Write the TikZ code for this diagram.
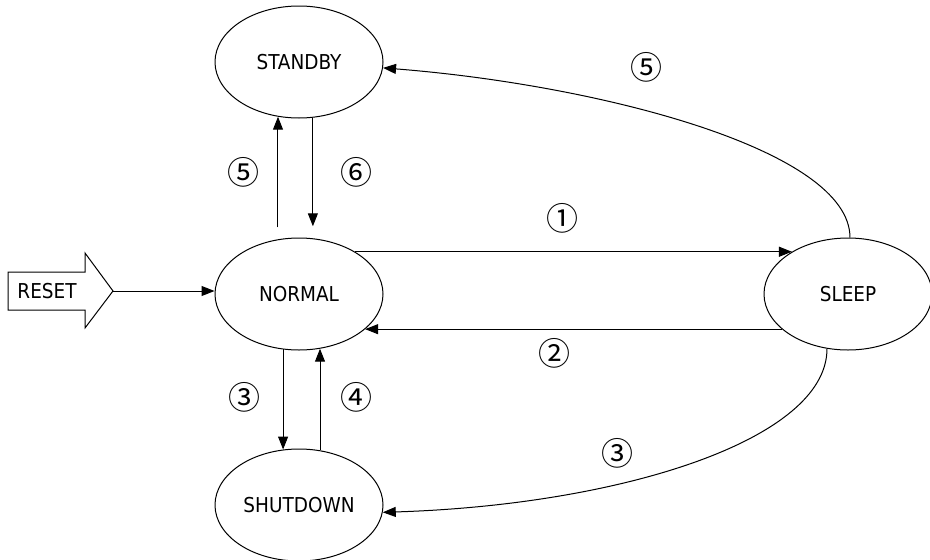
\documentclass[tikz,border=0pt]{standalone}
\usepackage{fontspec}
\setmainfont{DejaVu Sans Condensed}
\newfontfamily\circfont{Noto Sans CJK JP}
\usetikzlibrary{arrows.meta,shapes.geometric}
\begin{document}
\begin{tikzpicture}[x=1pt,y=-1pt,
  state/.style={draw,ellipse,line width=1pt,minimum width=168pt,minimum height=112pt,inner sep=0pt,font=\fontsize{20.5}{24}\selectfont},
  lab/.style={font=\circfont\fontsize{32}{34}\selectfont,inner sep=0pt},
  conn/.style={line width=1pt,-{Triangle[length=13pt,width=10pt]}}]
\useasboundingbox (0,0) rectangle (930,560);
\fill[white] (0,0) rectangle (930,560);
\node[state] (standby) at (299,62) {STANDBY};
\node[state] (normal) at (299,294) {NORMAL};
\node[state] (shutdown) at (299,505) {SHUTDOWN};
\node[state] (sleep) at (848,294) {SLEEP};
% RESET block arrow
\draw[line width=1pt] (8,272) -- (85,272) -- (85,253) -- (113,291) -- (85,328) -- (85,310) -- (8,310) -- cycle;
\node[font=\fontsize{20.5}{24}\selectfont] (reset) at (47,291) {RESET};
\coordinate (resettip) at (113,291);
\draw[conn] (resettip) -- (normal.west |- resettip);
% connectors
\draw[conn] (normal.37) -- (sleep.143);
\draw[conn] (sleep.208) -- (normal.-28);
\draw[conn, shorten <=12pt] (normal.111) -- (standby.249);
\draw[conn, shorten >=12pt] (standby.284) -- (normal.76);
\draw[conn] (normal.254) -- (shutdown.106);
\draw[conn] (shutdown.69) -- (normal.291);
\draw[conn] (sleep.88) .. controls (850,150) and (600,85) .. (standby.-4);
\draw[conn] (sleep.249) .. controls (827,440) and (620,505) .. (shutdown.-5);
% labels
\node[lab] (l1) at (562,218) {①};
\node[lab] (l2) at (554,353) {②};
\node[lab] (l3a) at (244,397) {③};
\node[lab] (l4) at (356,397) {④};
\node[lab] (l5a) at (243,172) {⑤};
\node[lab] (l6) at (356,172) {⑥};
\node[lab] (l5b) at (646,67) {⑤};
\node[lab] (l3b) at (617,453) {③};
\end{tikzpicture}
\end{document}
